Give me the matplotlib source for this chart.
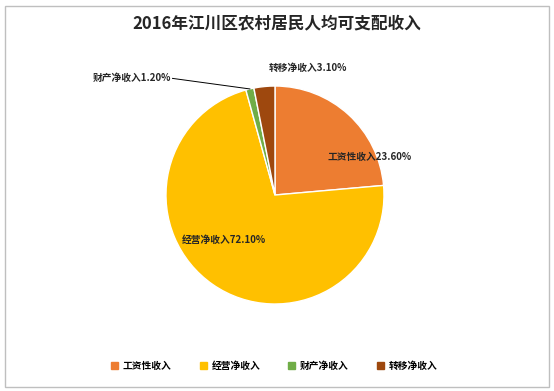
#!/usr/bin/env python3

import numpy as np
import matplotlib.pyplot as plt
from matplotlib.patches import Rectangle

plt.rcParams["font.family"] = ["Noto Sans CJK SC", "DejaVu Sans"]

categories = ["工资性收入", "经营净收入", "财产净收入", "转移净收入"]
shares = [23.6, 72.1, 1.2, 3.1]
colors = ["#ED7D31", "#FFC000", "#70AD47", "#9E480E"]


def main() -> None:
    fig = plt.figure(figsize=(5.54, 3.91), dpi=100)
    fig.patches.append(Rectangle((0.009, 0.01), 0.982, 0.975, transform=fig.transFigure,
                                 fill=False, edgecolor="#BFBFBF", linewidth=1))
    fig.text(0.5, 0.94, "2016年江川区农村居民人均可支配收入", ha="center", va="center",
             fontsize=12, fontweight="bold", color="#262626")

    ax = fig.add_axes([0.2996, 0.2225, 0.3935, 0.5575])
    wedges, _ = ax.pie(shares, colors=colors, startangle=90, counterclock=False,
                       wedgeprops={"edgecolor": "white", "linewidth": 1})
    ax.set_xlim(-1, 1)
    ax.set_ylim(-1, 1)
    ax.set_aspect("auto")

    labels = [f"{c}{v:.2f}%" for c, v in zip(categories, shares)]
    style = dict(fontsize=7, fontweight="bold", color="#262626", va="center")
    ax.text(0.87, 0.35, labels[0], ha="center", **style)
    ax.text(-0.47, -0.41, labels[1], ha="center", **style)
    ax.text(-0.95, 1.07, labels[2], ha="right", clip_on=False, **style)
    ax.text(0.30, 1.165, labels[3], ha="center", clip_on=False, **style)

    # leader line for the small slice
    w = wedges[2]
    mid = np.deg2rad((w.theta1 + w.theta2) / 2)
    ax.plot([-0.94, np.cos(mid)], [1.07, np.sin(mid)], color="black",
            linewidth=0.7, clip_on=False)

    handles = [Rectangle((0, 0), 1, 1, color=c) for c in colors]
    fig.legend(handles, categories, loc="center", bbox_to_anchor=(0.495, 0.064),
               ncol=4, frameon=False, handlelength=0.7, handleheight=0.7,
               columnspacing=2.9, handletextpad=0.5,
               prop={"weight": "bold", "size": 7})

    fig.savefig("out.png", dpi=100)


main()
